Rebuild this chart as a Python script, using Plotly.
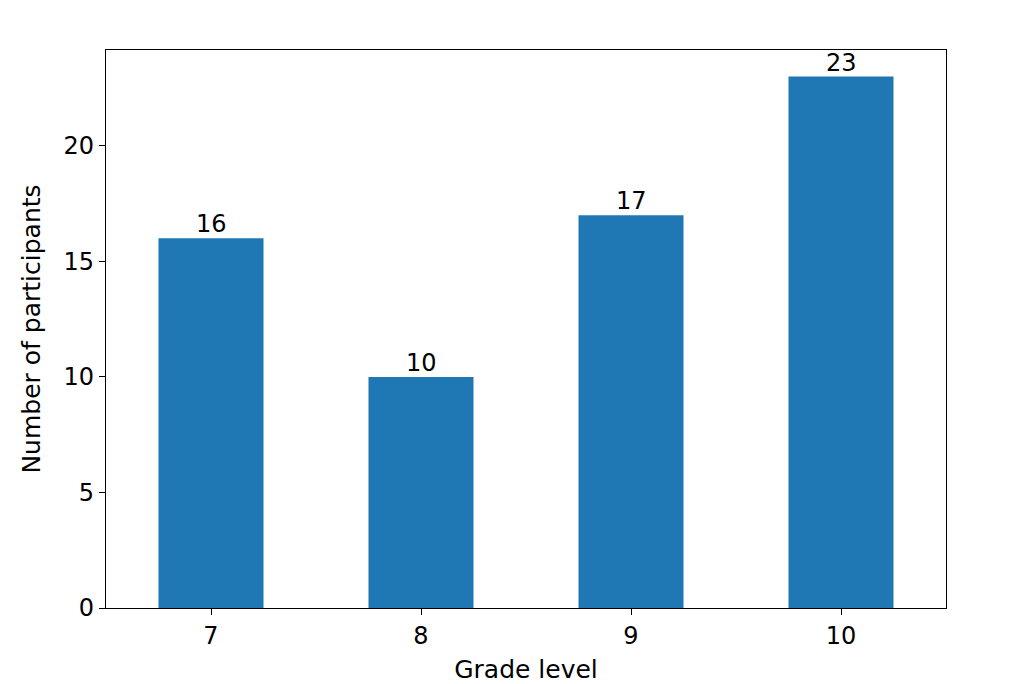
import plotly.graph_objects as go

grades = ["7", "8", "9", "10"]
participants = [16, 10, 17, 23]

FS = 24
TS = 25

fig = go.Figure()
fig.add_trace(go.Bar(
    x=grades, y=participants,
    marker=dict(color="#1f77b4", line=dict(width=0)),
    width=0.5,
))

for i, v in enumerate(participants):
    fig.add_annotation(
        x=i, y=v, text=str(v), showarrow=False,
        xanchor="center", yanchor="bottom", yshift=-1,
        font=dict(family="DejaVu Sans", size=FS, color="black"),
        borderpad=0,
    )

fig.update_layout(
    width=1008, height=676,
    margin=dict(l=98, r=70, t=42, b=76, autoexpand=False),
    paper_bgcolor="white", plot_bgcolor="white",
    font=dict(family="DejaVu Sans", size=FS, color="black"),
    showlegend=False,
    xaxis=dict(
        type="category", range=[-0.5, 3.5],
        showline=True, linecolor="black", linewidth=1.2, mirror=True,
        ticks="outside", ticklen=6, tickcolor="black", tickwidth=1.2,
        showgrid=False, zeroline=False, automargin=False,
        title=dict(text="Grade level", standoff=18, font=dict(size=TS)),
        tickfont=dict(size=FS),
    ),
    yaxis=dict(
        range=[0, 24.15],
        tickvals=[0, 5, 10, 15, 20],
        showline=True, linecolor="black", linewidth=1.2, mirror=True,
        ticks="outside", ticklen=6, tickcolor="black", tickwidth=1.2,
        showgrid=False, zeroline=False, automargin=False,
        title=dict(text="Number of participants", standoff=15, font=dict(size=TS)),
        tickfont=dict(size=FS),
    ),
)

fig.write_html("out.html")
